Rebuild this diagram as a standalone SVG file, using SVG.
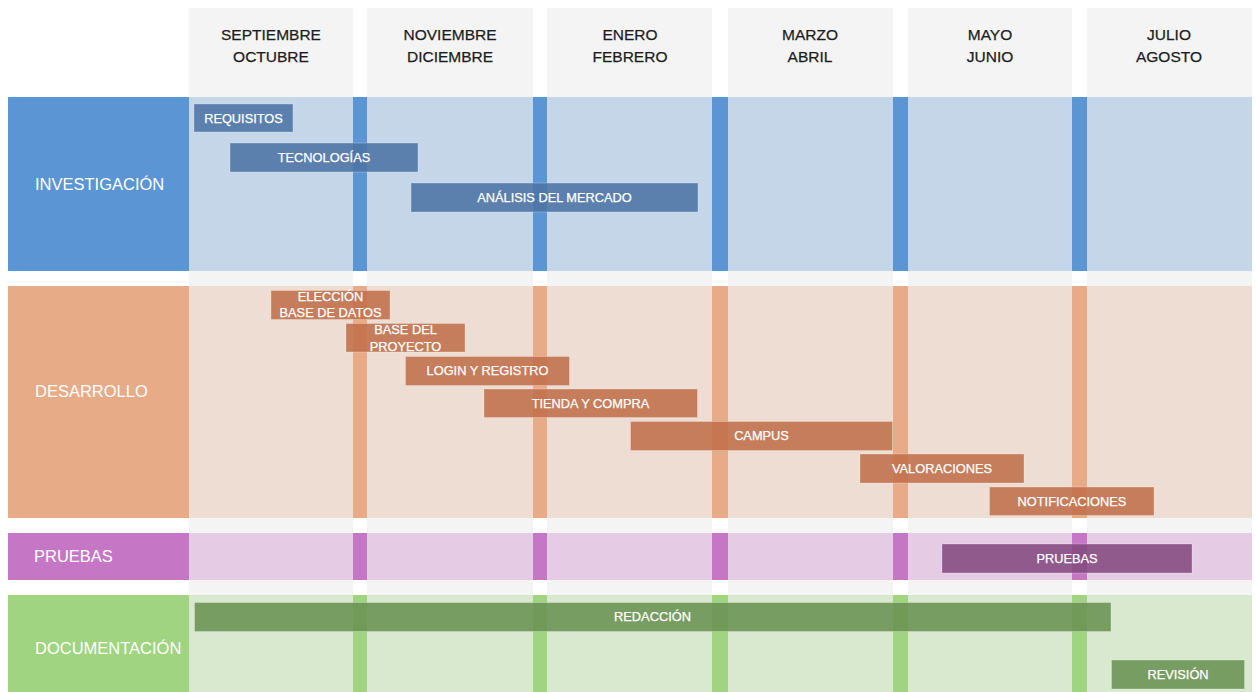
<svg xmlns="http://www.w3.org/2000/svg" width="1256" height="692" viewBox="0 0 1256 692">
<style>
.col{fill:#f4f4f4}
.mth{font-family:"Liberation Sans",Arial,sans-serif;font-size:15.5px;fill:#1c1c1c;stroke:#1c1c1c;stroke-width:0.25;text-anchor:middle}
.lbl{font-family:"Liberation Sans",Arial,sans-serif;font-size:16.5px;fill:#ffffff}
.bt{font-family:"Liberation Sans",Arial,sans-serif;font-size:12.8px;fill:#ffffff;stroke:#ffffff;stroke-width:0.25;text-anchor:middle}
.bar{stroke:#ffffff;stroke-opacity:0.25;stroke-width:1;fill-opacity:0.88}
.b1{fill:#4d74a4}.b2{fill:#c06f4a}.b3{fill:#844a7f}.b4{fill:#6a9253}
.s1{fill:#5b95d3}.l1{fill:#c5d6e8}
.s2{fill:#e8ab88}.l2{fill:#eeddd3}
.s3{fill:#c577c6}.l3{fill:#e5cce4}
.s4{fill:#a0d480}.l4{fill:#d9e9cf}
</style>
<rect width="1256" height="692" fill="#ffffff"/>
<g id="columns">
<rect class="col" x="189" y="8" width="164" height="684"/>
<rect class="col" x="367" y="8" width="166" height="684"/>
<rect class="col" x="547" y="8" width="165" height="684"/>
<rect class="col" x="728" y="8" width="165" height="684"/>
<rect class="col" x="908" y="8" width="164" height="684"/>
<rect class="col" x="1087" y="8" width="165" height="684"/>
<text class="mth" x="271" y="40">SEPTIEMBRE</text><text class="mth" x="271" y="62">OCTUBRE</text>
<text class="mth" x="450" y="40">NOVIEMBRE</text><text class="mth" x="450" y="62">DICIEMBRE</text>
<text class="mth" x="630" y="40">ENERO</text><text class="mth" x="630" y="62">FEBRERO</text>
<text class="mth" x="810" y="40">MARZO</text><text class="mth" x="810" y="62">ABRIL</text>
<text class="mth" x="990" y="40">MAYO</text><text class="mth" x="990" y="62">JUNIO</text>
<text class="mth" x="1169" y="40">JULIO</text><text class="mth" x="1169" y="62">AGOSTO</text>
</g>
<g id="row-investigacion">
<rect class="s1" x="8" y="97" width="1244" height="174"/>
<rect class="l1" x="189" y="97" width="164" height="174"/>
<rect class="l1" x="367" y="97" width="166" height="174"/>
<rect class="l1" x="547" y="97" width="165" height="174"/>
<rect class="l1" x="728" y="97" width="165" height="174"/>
<rect class="l1" x="908" y="97" width="164" height="174"/>
<rect class="l1" x="1087" y="97" width="165" height="174"/>
<text class="lbl" x="35" y="190">INVESTIGACIÓN</text>
</g>
<g id="row-desarrollo">
<rect class="s2" x="8" y="286" width="1244" height="232"/>
<rect class="l2" x="189" y="286" width="164" height="232"/>
<rect class="l2" x="367" y="286" width="166" height="232"/>
<rect class="l2" x="547" y="286" width="165" height="232"/>
<rect class="l2" x="728" y="286" width="165" height="232"/>
<rect class="l2" x="908" y="286" width="164" height="232"/>
<rect class="l2" x="1087" y="286" width="165" height="232"/>
<text class="lbl" x="35" y="397">DESARROLLO</text>
</g>
<g id="row-pruebas">
<rect class="s3" x="8" y="533" width="1244" height="47"/>
<rect class="l3" x="189" y="533" width="164" height="47"/>
<rect class="l3" x="367" y="533" width="166" height="47"/>
<rect class="l3" x="547" y="533" width="165" height="47"/>
<rect class="l3" x="728" y="533" width="165" height="47"/>
<rect class="l3" x="908" y="533" width="164" height="47"/>
<rect class="l3" x="1087" y="533" width="165" height="47"/>
<text class="lbl" x="34" y="562">PRUEBAS</text>
</g>
<g id="row-documentacion">
<rect class="s4" x="8" y="595" width="1244" height="97"/>
<rect class="l4" x="189" y="595" width="164" height="97"/>
<rect class="l4" x="367" y="595" width="166" height="97"/>
<rect class="l4" x="547" y="595" width="165" height="97"/>
<rect class="l4" x="728" y="595" width="165" height="97"/>
<rect class="l4" x="908" y="595" width="164" height="97"/>
<rect class="l4" x="1087" y="595" width="165" height="97"/>
<text class="lbl" x="35" y="654">DOCUMENTACIÓN</text>
</g>
<g id="task-requisitos"><rect class="bar b1" x="194" y="104" width="99" height="28"/><text class="bt" x="243.5" y="122.5">REQUISITOS</text></g>
<g id="task-tecnologias"><rect class="bar b1" x="230" y="143" width="188" height="29"/><text class="bt" x="324" y="162">TECNOLOGÍAS</text></g>
<g id="task-analisis"><rect class="bar b1" x="411" y="183" width="287" height="29"/><text class="bt" x="554.5" y="202">ANÁLISIS DEL MERCADO</text></g>
<g id="task-eleccion"><rect class="bar b2" x="271" y="290.5" width="119" height="29"/><text class="bt" x="330.5" y="300.5">ELECCIÓN</text><text class="bt" x="330.5" y="317">BASE DE DATOS</text></g>
<g id="task-base"><rect class="bar b2" x="346" y="323.5" width="119" height="28.5"/><text class="bt" x="405.5" y="334">BASE DEL</text><text class="bt" x="405.5" y="350.5">PROYECTO</text></g>
<g id="task-login"><rect class="bar b2" x="405.5" y="356.5" width="164" height="29"/><text class="bt" x="487.5" y="375">LOGIN Y REGISTRO</text></g>
<g id="task-tienda"><rect class="bar b2" x="484" y="389" width="213.5" height="28.5"/><text class="bt" x="590.5" y="407.5">TIENDA Y COMPRA</text></g>
<g id="task-campus"><rect class="bar b2" x="630.5" y="421.5" width="262" height="29"/><text class="bt" x="761.5" y="440">CAMPUS</text></g>
<g id="task-valoraciones"><rect class="bar b2" x="860" y="454" width="164" height="29"/><text class="bt" x="942" y="472.5">VALORACIONES</text></g>
<g id="task-notificaciones"><rect class="bar b2" x="989.5" y="487" width="164.5" height="28.5"/><text class="bt" x="1072" y="505.5">NOTIFICACIONES</text></g>
<g id="task-pruebas"><rect class="bar b3" x="942" y="544" width="250" height="29"/><text class="bt" x="1067" y="562.5">PRUEBAS</text></g>
<g id="task-redaccion"><rect class="bar b4" x="194.5" y="602.5" width="916.5" height="29"/><text class="bt" x="652.5" y="621">REDACCIÓN</text></g>
<g id="task-revision"><rect class="bar b4" x="1111.5" y="660" width="133" height="29"/><text class="bt" x="1178" y="678.5">REVISIÓN</text></g>
<g id="connectors"/>
</svg>
